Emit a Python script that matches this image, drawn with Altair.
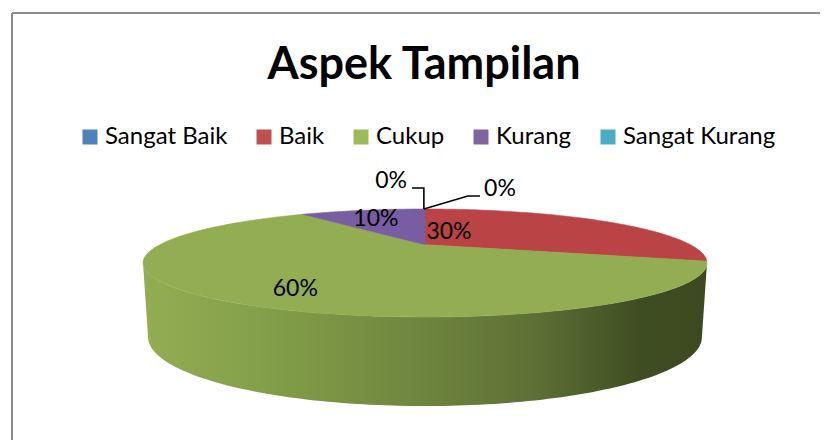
import numpy as np
import pandas as pd
import altair as alt

# --- chart values ---
categories = ["Sangat Baik", "Baik", "Cukup", "Kurang", "Sangat Kurang"]
shares = [0, 30, 60, 10, 0]
colors = ["#4f81bd", "#c0504d", "#9bbb59", "#8064a2", "#4bacc6"]
top_colors = ["#4f81bd", "#ba4346", "#93ad52", "#795da3", "#4bacc6"]

label_text = ["0%", "0%", "30%", "60%", "10%"]
label_x = [-0.12, 0.266, 0.085, -0.46, -0.174]
label_y = [1.52, 1.37, 0.574, -0.48, 0.815]

leader_id = ["a", "a", "a", "b", "b", "b"]
leader_x = [-0.046, -0.004, -0.004, -0.004, 0.152, 0.195]
leader_y = [1.39, 1.39, 1.0, 1.0, 1.24, 1.24]

# --- projection of the pie disc, seen in perspective ---
APEX = 0.34          # where the disc's centre lands on the ellipse's vertical axis
STEPS = 90


def project(u, v):
    k = np.sqrt(1 - APEX ** 2)
    den = 1 + APEX * v
    return u * k / den, (v + APEX) / den


rows = []
cum = np.cumsum([0] + shares)
for name, s, a in zip(categories, shares, cum[:-1]):
    if s == 0:
        continue
    t = np.radians(np.linspace(a, a + s, STEPS) * 3.6)
    x, y = project(np.sin(t), np.cos(t))
    cx, cy = project(0.0, 0.0)
    xs = np.r_[cx, x, cx]
    ys = np.r_[cy, y, cy]
    for i, (px, py) in enumerate(zip(xs, ys)):
        rows.append({"cat": name, "i": i, "x": px, "y": py})
slices = pd.DataFrame(rows)

# side wall: front half of the top rim, then the bottom rim back again
w = np.linspace(0, np.pi, 120)
wall = pd.DataFrame({
    "i": np.arange(240),
    "x": np.r_[np.cos(w), 0.982 * np.cos(w[::-1])],
    "y": np.r_[-np.sin(w), -1.37 - 1.28 * np.sin(w[::-1])],
})

labels = pd.DataFrame({"t": label_text, "x": label_x, "y": label_y})
leaders = pd.DataFrame({"id": leader_id, "x": leader_x, "y": leader_y, "i": range(6)})
legend_rows = pd.DataFrame({"cat": categories})

X = alt.X("x:Q", axis=None, scale=alt.Scale(domain=[-1, 1], range=[135, 699], nice=False, zero=False))
Y = alt.Y("y:Q", axis=None, scale=alt.Scale(domain=[-1, 1], range=[309, 201], nice=False, zero=False))
ORDER = alt.Order("i:Q")

gradient = alt.Gradient(
    gradient="linear", x1=0, x2=1, y1=0, y2=0,
    stops=[
        alt.GradientStop(offset=0.0, color="#93ad52"),
        alt.GradientStop(offset=0.2, color="#84a04a"),
        alt.GradientStop(offset=0.45, color="#728a40"),
        alt.GradientStop(offset=0.7, color="#5c7035"),
        alt.GradientStop(offset=0.88, color="#3f4d22"),
        alt.GradientStop(offset=1.0, color="#3d4a21"),
    ],
)

side = alt.Chart(wall).mark_line(fill=gradient, strokeWidth=0).encode(x=X, y=Y, order=ORDER)

top = alt.Chart(slices).mark_line(strokeWidth=0.6).encode(
    x=X, y=Y, order=ORDER,
    detail="cat:N",
    stroke=alt.Stroke("cat:N", scale=alt.Scale(domain=categories, range=top_colors), legend=None),
    fill=alt.Fill("cat:N", scale=alt.Scale(domain=categories, range=top_colors), legend=None),
)

# carries the legend, in the legend's own lighter colours
key = alt.Chart(legend_rows).mark_square(opacity=0).encode(
    x=alt.value(0), y=alt.value(0),
    fill=alt.Fill(
        "cat:N",
        scale=alt.Scale(domain=categories, range=colors),
        legend=alt.Legend(
            title=None, orient="none", direction="horizontal",
            legendX=70, legendY=117, symbolType="square", symbolSize=225,
            symbolStrokeWidth=0, labelFont="Lato", labelFontSize=24,
            labelColor="#000000", labelOffset=3, columnPadding=24,
            values=categories, symbolOpacity=1,
        ),
    ),
)

lead = alt.Chart(leaders).mark_line(color="#000000", strokeWidth=1.6).encode(
    x=X, y=Y, order=ORDER, detail="id:N"
)
text = alt.Chart(labels).mark_text(font="Lato", fontSize=23, color="#000000").encode(x=X, y=Y, text="t:N")

frame_top = alt.Chart(pd.DataFrame({"k": [0]})).mark_rule(color="#8c8c8c", strokeWidth=2).encode(
    x=alt.value(4), x2=alt.value(812), y=alt.value(5)
)
frame_left = alt.Chart(pd.DataFrame({"k": [0]})).mark_rule(color="#8c8c8c", strokeWidth=2).encode(
    x=alt.value(4), y=alt.value(5), y2=alt.value(432)
)

chart = (
    alt.layer(frame_top, frame_left, side, top, key, lead, text)
    .resolve_scale(fill="independent", stroke="independent")
    .properties(
        width=812, height=432, padding=0,
        autosize=alt.AutoSizeParams(type="none"),
        title=alt.TitleParams(
            "Aspek Tampilan", anchor="middle", font="Lato", fontSize=45,
            fontWeight="bold", color="#000000", dy=87, dx=10,
        ),
    )
    .configure_view(stroke=None)
)

chart.save("out.html", embed_options={"renderer": "svg", "actions": False})
